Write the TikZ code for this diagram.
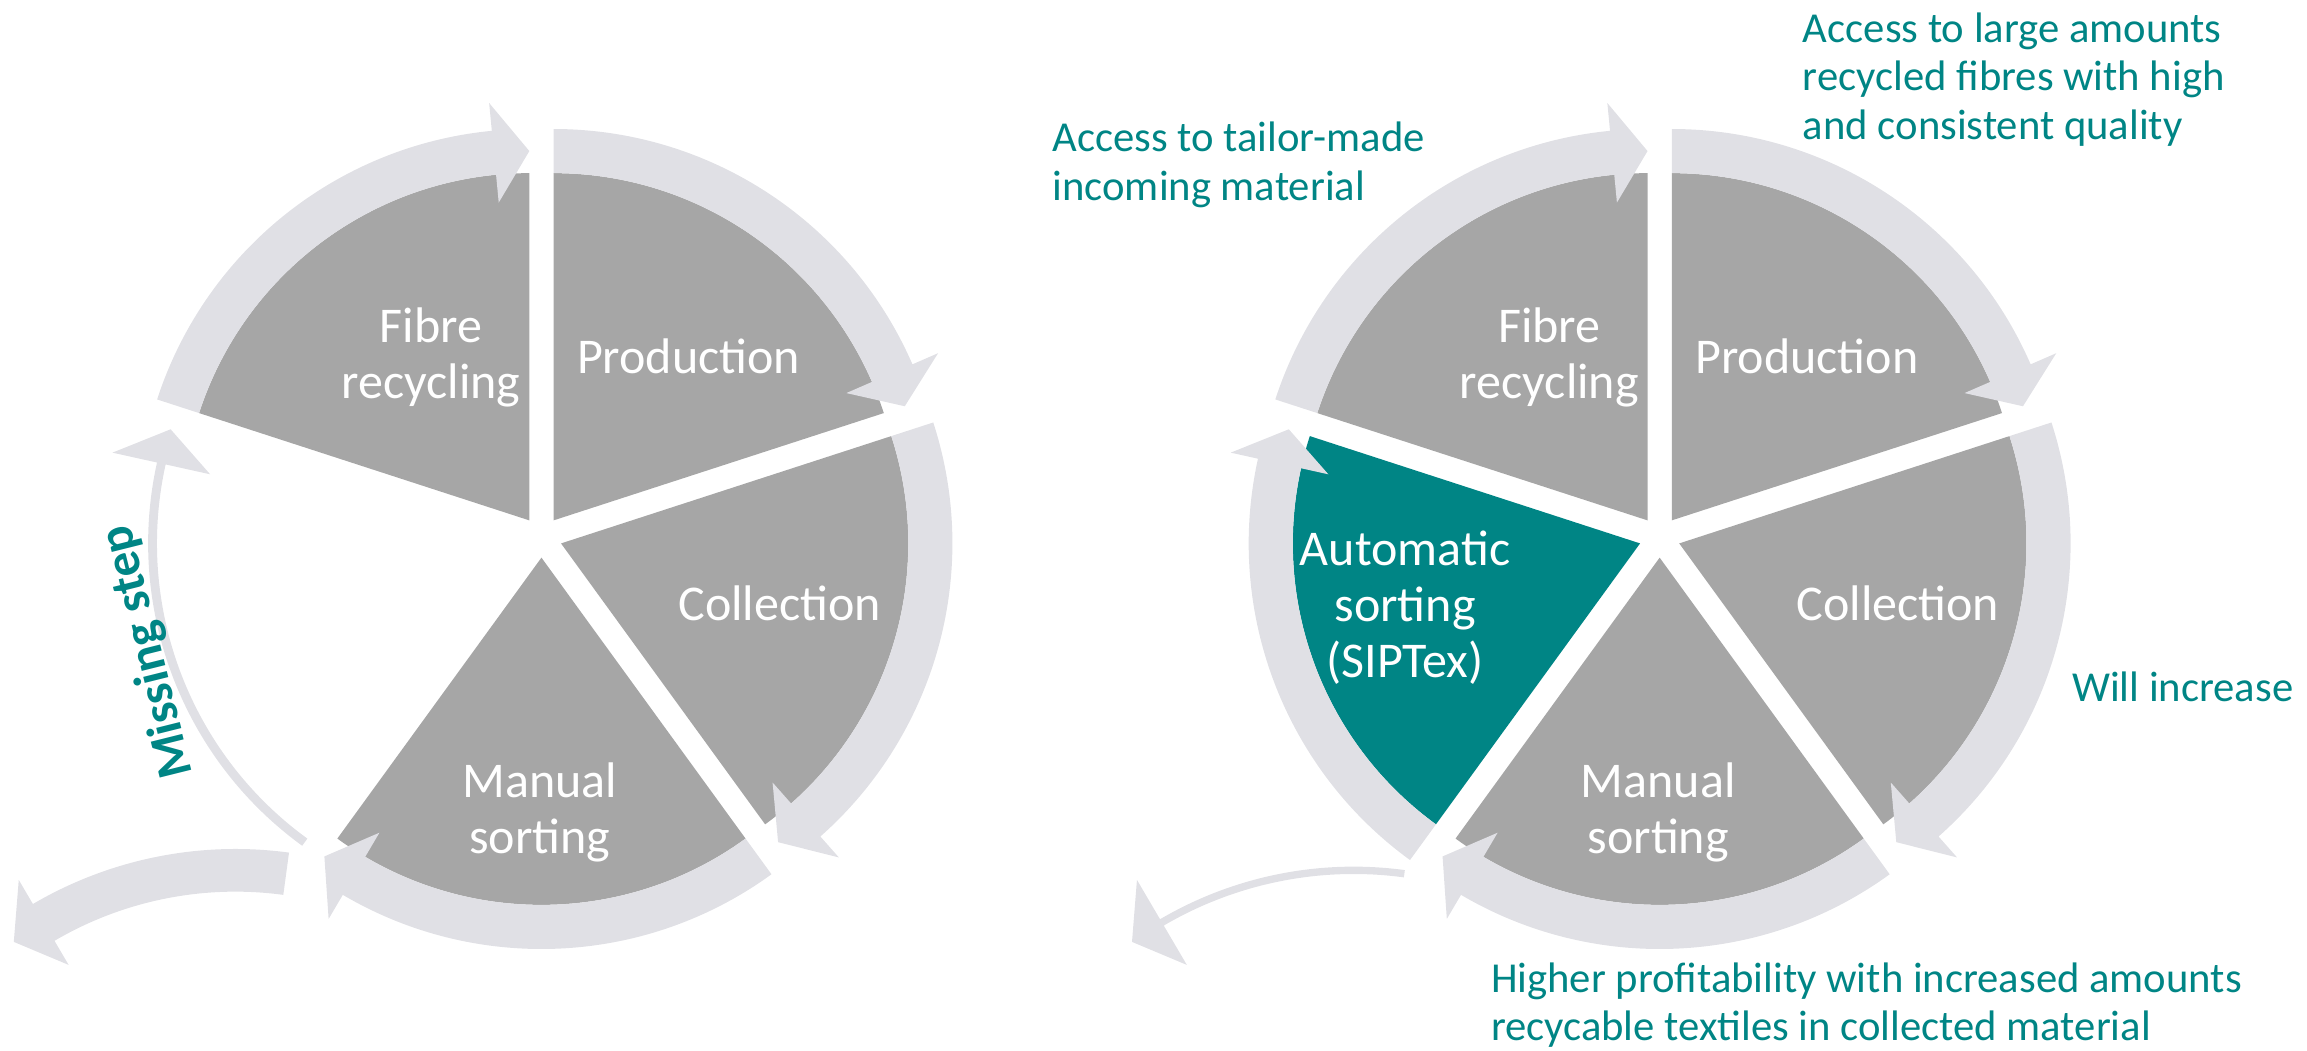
\documentclass[tikz,border=0pt]{standalone}
\usepackage{fontspec}
\setmainfont{Carlito}
\usetikzlibrary{calc}
\definecolor{dkgray}{RGB}{166,166,166}
\definecolor{bandgray}{RGB}{224,224,229}
\definecolor{tealc}{RGB}{0,133,133}
\tikzset{
  lbl/.style={text=white,align=center,font=\fontsize{17}{19}\selectfont,inner sep=0pt},
  note/.style={text=tealc,align=left,anchor=west,font=\fontsize{14.5}{16.5}\selectfont,inner sep=0pt},
}
% #1 cx, #2 cy, #3 start angle, #4 colour
\newcommand{\segwedge}[4]{%
  \begin{scope}[shift={(#1,#2)}]
    \pgfmathsetmacro{\mm}{#3-36}
    \begin{scope}[shift={(\mm:14)}]
      \fill[#4] (0,0) -- (#3:236) arc[start angle=#3, end angle=#3-72, radius=236] -- cycle;
    \end{scope}
  \end{scope}}
% #1 cx, #2 cy, #3 start angle, #4 inner radius, #5 outer radius
\newcommand{\segband}[5]{%
  \begin{scope}[shift={(#1,#2)}]
    \pgfmathsetmacro{\mm}{#3-36}
    \pgfmathsetmacro{\ee}{#3-72}
    \pgfmathsetmacro{\eb}{#3-72+5.5}
    \begin{scope}[shift={(\mm:14)}]
      \fill[bandgray] (#3:#4) arc[start angle=#3, end angle=\eb, radius=#4]
        -- (\eb:217) -- (\ee:251) -- (\eb:285) -- (\eb:#5)
        arc[start angle=\eb, end angle=#3, radius=#5] -- cycle;
    \end{scope}
  \end{scope}}
% #1 cx, #2 cy, #3 inner radius, #4 outer radius
\newcommand{\exitarrow}[4]{%
  \begin{scope}[shift={(#1,#2)}]
    \fill[bandgray] (82.3:#3) arc[start angle=82.3, end angle=120.4, radius=#3]
      -- (120.4:224) -- (125.8:257.5) -- (120.4:291) -- (120.4:#4)
      arc[start angle=120.4, end angle=82.3, radius=#4] -- cycle;
  \end{scope}}

\begin{document}
\begin{tikzpicture}[x=0.5pt,y=0.5pt]
\useasboundingbox (0,0) rectangle (1568,-714.3);

% ---------- left cycle ----------
\foreach \s in {162,90,18,-54} {\segwedge{368}{-365}{\s}{dkgray}}
\foreach \s in {162,90,18,-54} {\segband{368}{-365}{\s}{236}{266}}
\segband{368}{-365}{-126}{248}{254}
\exitarrow{160}{-849}{243}{272}

\node[lbl] (lfib) at (293,-243) {Fibre\\recycling};
\node[lbl] (lpro) at (468,-242) {Production};
\node[lbl] (lcol) at (530,-410) {Collection};
\node[lbl] (lman) at (367,-552) {Manual\\sorting};
\node[text=tealc,font=\bfseries\fontsize{17}{19}\selectfont,rotate=104,inner sep=0pt] (miss) at (101,-443) {Missing step};

% ---------- right cycle ----------
\foreach \s in {162,90,18,-54} {\segwedge{1128}{-365}{\s}{dkgray}}
\segwedge{1128}{-365}{-126}{tealc}
\foreach \s in {162,90,18,-54,-126} {\segband{1128}{-365}{\s}{236}{266}}
\exitarrow{920}{-849}{255}{260}

\node[lbl] (rfib) at (1053,-243) {Fibre\\recycling};
\node[lbl] (rpro) at (1228,-242) {Production};
\node[lbl] (rcol) at (1290,-410) {Collection};
\node[lbl] (rman) at (1127,-552) {Manual\\sorting};
\node[lbl] (raut) at (955,-413) {Automatic\\sorting\\(SIPTex)};

\node[note] (n1) at (715,-112) {Access to tailor-made\\incoming material};
\node[note] (n2) at (1225,-54) {Access to large amounts\\recycled fibres with high\\and consistent quality};
\node[note] (n3) at (1408,-467) {Will increase};
\node[note] (n4) at (1013,-683) {Higher profitability with increased amounts\\recycable textiles in collected material};
\end{tikzpicture}
\end{document}
